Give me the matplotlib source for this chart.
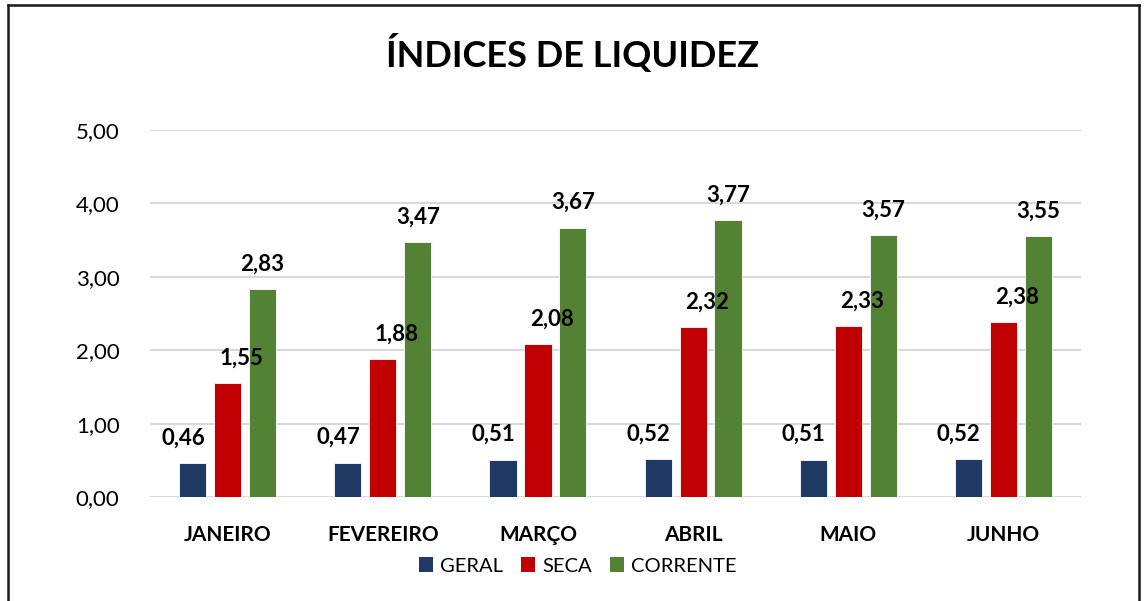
import matplotlib
matplotlib.use("Agg")
import matplotlib.pyplot as plt
import numpy as np
from matplotlib.lines import Line2D
from matplotlib.patches import Patch

plt.rcParams['font.family'] = ['Lato', 'DejaVu Sans']

meses = ["JANEIRO", "FEVEREIRO", "MARÇO", "ABRIL", "MAIO", "JUNHO"]
geral = [0.46, 0.47, 0.51, 0.52, 0.51, 0.52]
seca = [1.55, 1.88, 2.08, 2.32, 2.33, 2.38]
corrente = [2.83, 3.47, 3.67, 3.77, 3.57, 3.55]

series = [("GERAL", geral, "#203864", -0.225, -7),
          ("SECA", seca, "#C00000", 0.0, 10),
          ("CORRENTE", corrente, "#548235", 0.225, 0)]

fig = plt.figure(figsize=(11.46, 6.01), dpi=100)
ax = fig.add_axes([0.1309, 0.1730, 0.8124, 0.6107])

x = np.arange(len(meses))
w = 0.175
for nome, vals, cor, off, dx in series:
    bars = ax.bar(x + off, vals, w, color=cor, edgecolor="white", linewidth=0.6, label=nome, zorder=3)
    for b, v in zip(bars, vals):
        ax.annotate(f"{v:.2f}".replace(".", ","), (b.get_x() + b.get_width() / 2, v),
                    xytext=(dx, 18), textcoords="offset points", ha="center", va="center",
                    fontsize=16, fontweight="bold", color="black", zorder=6)

ax.set_xlim(-0.5, len(meses) - 0.5)
ax.set_ylim(0, 5)
ax.set_yticks(np.arange(0, 5.01, 1))
ax.set_yticklabels([f"{t:.2f}".replace(".", ",") for t in np.arange(0, 5.01, 1)], fontsize=16)
ax.set_xticks(x)
ax.set_xticklabels(meses, fontsize=15, fontweight="bold")
ax.tick_params(axis="y", length=0, pad=22)
ax.tick_params(axis="x", length=0, pad=20)
ax.yaxis.grid(True, color="#D9D9D9", linewidth=1.5, zorder=0)
for s in ax.spines.values():
    s.set_visible(False)

fig.text(0.5, 1 - 53 / 601, "ÍNDICES DE LIQUIDEZ", ha="center", va="center",
         fontsize=26, fontweight="bold")

handles = [Patch(facecolor=c, label=n) for n, _, c, _, _ in series]
fig.legend(handles=handles, loc="center", bbox_to_anchor=(578 / 1146, 1 - 566 / 601),
           ncol=3, frameon=False, fontsize=14.5, handlelength=0.7, handleheight=0.7,
           handletextpad=0.35, columnspacing=0.9)

# chart border (bottom edge is cut off in the original)
bc = "#1a1a1a"
fig.add_artist(Line2D([8 / 1146, 8 / 1146], [0, 1 - 5 / 601], transform=fig.transFigure, color=bc, lw=1.8))
fig.add_artist(Line2D([8 / 1146, 1139 / 1146], [1 - 5 / 601, 1 - 5 / 601], transform=fig.transFigure, color=bc, lw=1.8))
fig.add_artist(Line2D([1139 / 1146, 1139 / 1146], [0, 1 - 5 / 601], transform=fig.transFigure, color=bc, lw=1.8))

fig.savefig("out.png", dpi=100, facecolor="white")
